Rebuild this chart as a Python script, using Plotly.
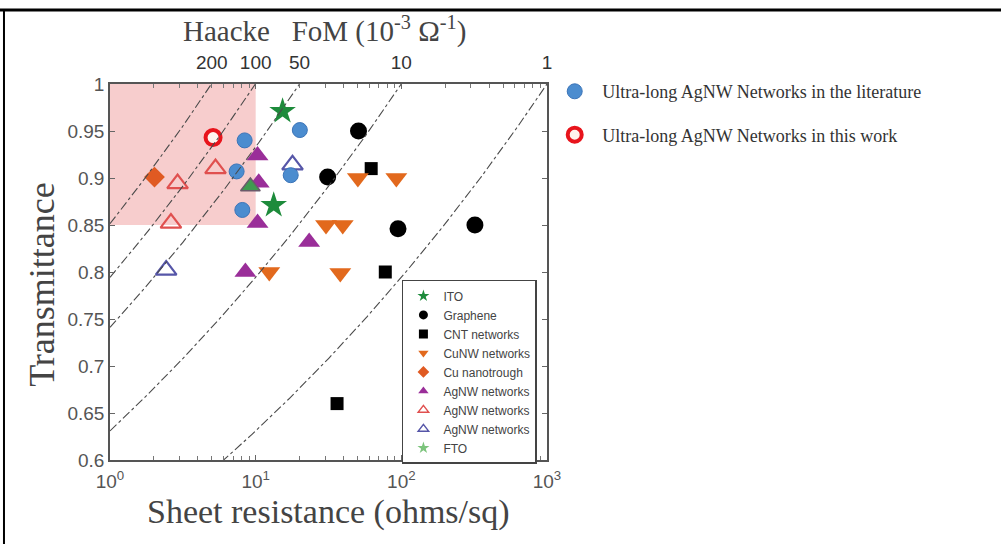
import numpy as np
import plotly.graph_objects as go

# ---------------- data ----------------
ito_rs = [15.3, 13.3]
ito_t = [0.971, 0.871]

graphene_rs = [50.8, 31.2, 94.9, 320]
graphene_t = [0.950, 0.901, 0.846, 0.850]

cnt_rs = [62.1, 77.6, 36.2]
cnt_t = [0.910, 0.800, 0.660]

cunw_rs = [12.4, 38.1, 30.4, 39.6, 50.3, 92.4]
cunw_t = [0.800, 0.799, 0.850, 0.850, 0.900, 0.900]

cutrough_rs = [2.02]
cutrough_t = [0.901]

agnw_purple_rs = [10.3, 10.3, 23.3, 8.5, 10.5]
agnw_purple_t = [0.924, 0.852, 0.832, 0.800, 0.895]

agnw_red_rs = [2.91, 5.3, 2.62]
agnw_red_t = [0.894, 0.910, 0.852]

agnw_blue_rs = [2.43, 17.9]
agnw_blue_t = [0.802, 0.914]

fto_rs = [9.2]
fto_t = [0.891]

lit_rs = [8.4, 20.1, 7.4, 17.4, 8.1]
lit_t = [0.940, 0.951, 0.907, 0.903, 0.866]

work_rs = [5.1]
work_t = [0.943]

# Haacke figure-of-merit iso-lines (10^-3 ohm^-1)
fom_values = [200, 100, 50, 10, 1]
fom_labels = ["200", "100", "50", "10", "1"]

# shaded target region
target_rs = [1, 10]
target_t = [0.85, 1.0]

x_ticks = [1, 10, 100, 1000]
x_ticktext = ["10<sup>0</sup>", "10<sup>1</sup>", "10<sup>2</sup>", "10<sup>3</sup>"]
x_minor = [m * d for d in (1, 10, 100) for m in range(2, 10)]
y_ticks = [0.6, 0.65, 0.7, 0.75, 0.8, 0.85, 0.9, 0.95, 1.0]
y_ticktext = ["0.6", "0.65", "0.7", "0.75", "0.8", "0.85", "0.9", "0.95", "1"]

# ---------------- figure ----------------
fig = go.Figure()

# iso-FoM curves: T = (FoM * Rs)^(1/10)
rs_grid = np.logspace(0, 3, 300)
for fom in fom_values:
    t_curve = (fom * 1e-3 * rs_grid) ** 0.1
    fig.add_trace(go.Scatter(
        x=rs_grid, y=t_curve, mode="lines", xaxis="x2",
        line=dict(color="#4a4a4a", width=1.1, dash="dashdot"),
        showlegend=False, hoverinfo="skip"))

series = [
    # name, xs, ys, symbol, size, fill, line color, line width
    ("ITO", ito_rs, ito_t, "star", 20, "#1d8b3b", "#1d8b3b", 0),
    ("Graphene", graphene_rs, graphene_t, "circle", 17, "black", "black", 0),
    ("CNT networks", cnt_rs, cnt_t, "square", 13, "black", "black", 0),
    ("CuNW networks", cunw_rs, cunw_t, "triangle-down", 19, "#e2691d", "#e2691d", 0),
    ("Cu nanotrough", cutrough_rs, cutrough_t, "diamond", 16, "#e05a22", "#e05a22", 0),
    ("AgNW networks", agnw_purple_rs, agnw_purple_t, "triangle-up", 19, "#9a2e99", "#9a2e99", 0),
    ("AgNW networks", agnw_red_rs, agnw_red_t, "triangle-up-open", 18, "#e0504f", "#e0504f", 2.2),
    ("AgNW networks", agnw_blue_rs, agnw_blue_t, "triangle-up-open", 18, "#5656a8", "#5656a8", 2.2),
    ("FTO", fto_rs, fto_t, "triangle-up", 17, "#3f9a4f", "#6a5a6a", 1.5),
]

for name, xs, ys, sym, size, fill, lc, lw in series:
    fig.add_trace(go.Scatter(
        x=xs, y=ys, mode="markers", name=name, showlegend=False,
        marker=dict(symbol=sym, size=size, color=fill,
                    line=dict(color=lc, width=lw))))

# ultra-long AgNW networks (literature) and this work
fig.add_trace(go.Scatter(
    x=lit_rs, y=lit_t, mode="markers", showlegend=False,
    marker=dict(symbol="circle", size=15, color="#4b8ccf",
                line=dict(color="#3b74b8", width=1))))
fig.add_trace(go.Scatter(
    x=work_rs, y=work_t, mode="markers", showlegend=False,
    marker=dict(symbol="circle", size=15, color="#fff4ee",
                line=dict(color="#e8141c", width=4))))

# legend entries (small markers as in the original)
legend_syms = [
    ("ITO", "star", "#1d8b3b", "#1d8b3b", 0),
    ("Graphene", "circle", "black", "black", 0),
    ("CNT networks", "square", "black", "black", 0),
    ("CuNW networks", "triangle-down", "#e2691d", "#e2691d", 0),
    ("Cu nanotrough", "diamond", "#e05a22", "#e05a22", 0),
    ("AgNW networks", "triangle-up", "#9a2e99", "#9a2e99", 0),
    ("AgNW networks", "triangle-up-open", "#e0504f", "#e0504f", 1.5),
    ("AgNW networks", "triangle-up-open", "#5656a8", "#5656a8", 1.5),
    ("FTO", "star", "#7cc47c", "#7cc47c", 0),
]
for name, sym, fill, lc, lw in legend_syms:
    fig.add_trace(go.Scatter(
        x=[None], y=[None], mode="markers", name=name, legend="legend",
        marker=dict(symbol=sym, size=9, color=fill, line=dict(color=lc, width=lw))))

fig.add_trace(go.Scatter(
    x=[None], y=[None], mode="markers", name="Ultra-long AgNW Networks in the literature",
    legend="legend2", legendgroup="a",
    marker=dict(symbol="circle", size=15, color="#4b8ccf", line=dict(color="#3b74b8", width=1))))
fig.add_trace(go.Scatter(
    x=[None], y=[None], mode="markers", name="Ultra-long AgNW Networks in this work",
    legend="legend2", legendgroup="b",
    marker=dict(symbol="circle", size=14, color="#fff4ee", line=dict(color="#e8141c", width=4))))

# shaded target region
fig.add_shape(type="rect", xref="x", yref="y",
              x0=target_rs[0], x1=target_rs[1], y0=target_t[0], y1=target_t[1],
              fillcolor="#f7cdcd", line=dict(width=0), layer="below")

# outer frame of the figure (top and left edges)
fig.add_shape(type="line", xref="paper", yref="paper",
              x0=-0.26, x1=2.1, y0=1.197, y1=1.197, line=dict(color="black", width=3))
fig.add_shape(type="line", xref="paper", yref="paper",
              x0=-0.2426, x1=-0.2426, y0=1.197, y1=-0.3, line=dict(color="black", width=2))

axis_font = dict(family="Liberation Sans, Arial", size=19, color="#555555")

fig.update_layout(
    width=1001, height=544,
    margin=dict(l=110, r=454, t=84, b=84, autoexpand=False),
    paper_bgcolor="white", plot_bgcolor="white",
    xaxis=dict(type="log", range=[0, 3], tickvals=x_ticks, ticktext=x_ticktext,
               ticks="inside", ticklen=5, tickcolor="#666", showline=True,
               linecolor="#555", linewidth=1.5, mirror="ticks", showgrid=False,
               zeroline=False, tickfont=axis_font, ticklabelstandoff=3,
               minor=dict(tickmode="array", tickvals=x_minor, ticks="inside", ticklen=4,
                          tickcolor="#777", showgrid=False)),
    xaxis2=dict(type="log", range=[0, 3], overlaying="x", side="top",
                tickvals=[1e3 / v for v in fom_values], ticktext=fom_labels,
                ticks="", showgrid=False, zeroline=False, showline=False,
                ticklabelstandoff=10,
                tickfont=dict(family="Liberation Sans, Arial", size=19, color="#333333")),
    yaxis=dict(range=[0.6, 1.0], tickvals=y_ticks, ticktext=y_ticktext,
               ticks="inside", ticklen=5, tickcolor="#666", showline=True,
               linecolor="#555", linewidth=1.5, mirror="ticks", showgrid=False,
               zeroline=False, tickfont=axis_font),
    legend=dict(x=0.668, y=0.479, xanchor="left", yanchor="top",
                bgcolor="white", bordercolor="#444", borderwidth=1.5,
                font=dict(family="Liberation Sans, Arial", size=12, color="#444"),
                itemsizing="trace", itemwidth=30, tracegroupgap=0),
    legend2=dict(x=1.0005, y=1.029, xanchor="left", yanchor="top",
                 bgcolor="rgba(0,0,0,0)", borderwidth=0, itemwidth=45,
                 font=dict(family="Liberation Serif, Times New Roman", size=18, color="#333"),
                 tracegroupgap=17, traceorder="grouped"),
    annotations=[
        dict(text="Haacke   FoM (10<sup>-3</sup> Ω<sup>-1</sup>)", xref="paper", yref="paper",
             x=0.49, y=1.144, xanchor="center", yanchor="middle", showarrow=False,
             font=dict(family="Liberation Serif, Times New Roman", size=29, color="#444")),
        dict(text="Sheet resistance (ohms/sq)", xref="paper", yref="paper",
             x=0.5, y=-0.138, xanchor="center", yanchor="middle", showarrow=False,
             font=dict(family="Liberation Serif, Times New Roman", size=34, color="#444")),
        dict(text="Transmittance", xref="paper", yref="paper", textangle=-90,
             x=-0.156, y=0.468, xanchor="center", yanchor="middle", showarrow=False,
             font=dict(family="Liberation Serif, Times New Roman", size=36, color="#444")),
    ],
)

fig.write_html("out.html", config={"displayModeBar": False},
               post_script="document.body.style.margin='0';document.body.style.padding='0';")
